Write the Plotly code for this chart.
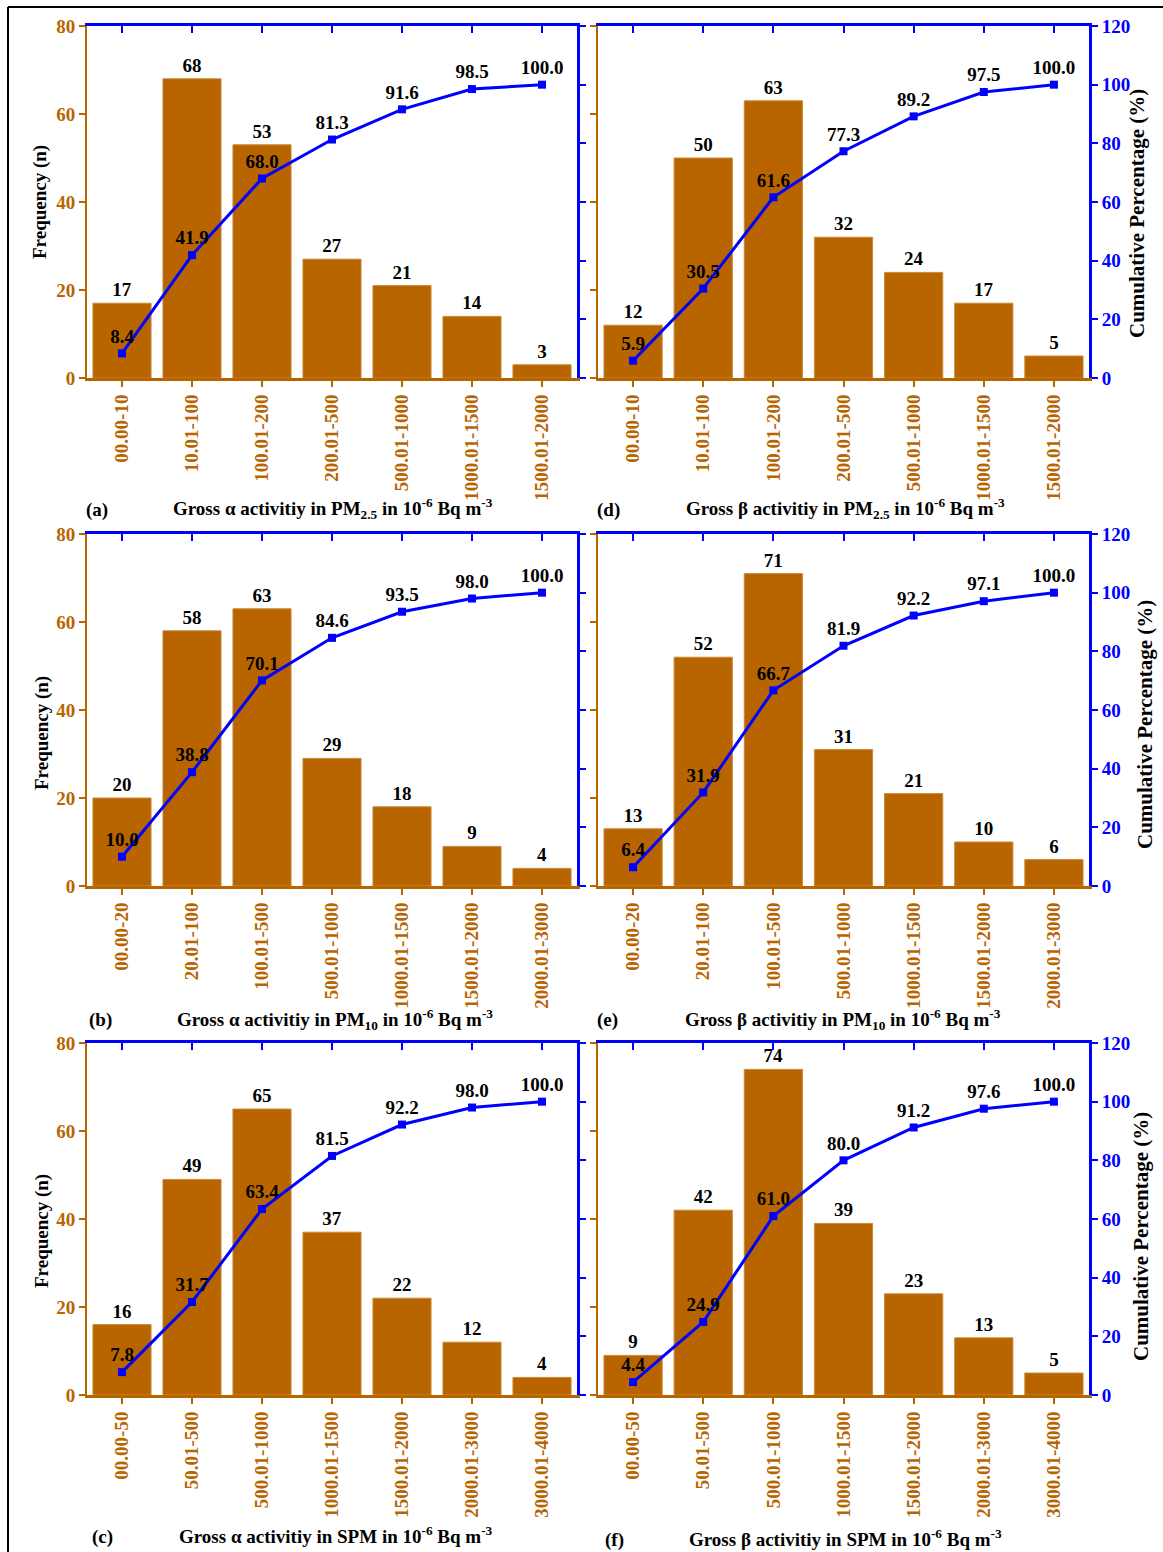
import plotly.graph_objects as go

W, H = 1163, 1552
BROWN = "#B86500"
BLUE = "#0000FF"
FONT = "Liberation Serif"

# ---------------- data ----------------
cats_pm25 = ["00.00-10", "10.01-100", "100.01-200", "200.01-500", "500.01-1000", "1000.01-1500", "1500.01-2000"]
cats_pm10 = ["00.00-20", "20.01-100", "100.01-500", "500.01-1000", "1000.01-1500", "1500.01-2000", "2000.01-3000"]
cats_spm = ["00.00-50", "50.01-500", "500.01-1000", "1000.01-1500", "1500.01-2000", "2000.01-3000", "3000.01-4000"]

freq_a = [17, 68, 53, 27, 21, 14, 3]
cum_a = [8.4, 41.9, 68.0, 81.3, 91.6, 98.5, 100.0]
freq_d = [12, 50, 63, 32, 24, 17, 5]
cum_d = [5.9, 30.5, 61.6, 77.3, 89.2, 97.5, 100.0]
freq_b = [20, 58, 63, 29, 18, 9, 4]
cum_b = [10.0, 38.8, 70.1, 84.6, 93.5, 98.0, 100.0]
freq_e = [13, 52, 71, 31, 21, 10, 6]
cum_e = [6.4, 31.9, 66.7, 81.9, 92.2, 97.1, 100.0]
freq_c = [16, 49, 65, 37, 22, 12, 4]
cum_c = [7.8, 31.7, 63.4, 81.5, 92.2, 98.0, 100.0]
freq_f = [9, 42, 74, 39, 23, 13, 5]
cum_f = [4.4, 24.9, 61.0, 80.0, 91.2, 97.6, 100.0]

title_a = "Gross α activitiy in PM<sub>2.5</sub> in 10<sup>-6</sup> Bq m<sup>-3</sup>"
title_d = "Gross β activitiy in PM<sub>2.5</sub> in 10<sup>-6</sup> Bq m<sup>-3</sup>"
title_b = "Gross α activitiy in PM<sub>10</sub> in 10<sup>-6</sup> Bq m<sup>-3</sup>"
title_e = "Gross β activitiy in PM<sub>10</sub> in 10<sup>-6</sup> Bq m<sup>-3</sup>"
title_c = "Gross α activitiy in SPM in 10<sup>-6</sup> Bq m<sup>-3</sup>"
title_f = "Gross β activitiy in SPM in 10<sup>-6</sup> Bq m<sup>-3</sup>"

# ---------------- layout geometry (pixels) ----------------
col_x = {"L": (87, 577), "R": (598, 1089)}
row_y = [(26, 378), (534, 886), (1043, 1395)]

panels = [
    dict(cats=cats_pm25, freq=freq_a, cum=cum_a, col="L", row=0, letter="(a)", title=title_a,
         lpos=(97, 510), tpos=(333, 509), ytitle=(40, 202), rtitle=None),
    dict(cats=cats_pm25, freq=freq_d, cum=cum_d, col="R", row=0, letter="(d)", title=title_d,
         lpos=(608, 510), tpos=(845, 509), ytitle=None, rtitle=(1137, 214)),
    dict(cats=cats_pm10, freq=freq_b, cum=cum_b, col="L", row=1, letter="(b)", title=title_b,
         lpos=(100, 1020), tpos=(335, 1019), ytitle=(42, 733), rtitle=None),
    dict(cats=cats_pm10, freq=freq_e, cum=cum_e, col="R", row=1, letter="(e)", title=title_e,
         lpos=(607, 1020), tpos=(843, 1019), ytitle=None, rtitle=(1145, 725)),
    dict(cats=cats_spm, freq=freq_c, cum=cum_c, col="L", row=2, letter="(c)", title=title_c,
         lpos=(102, 1537), tpos=(336, 1535), ytitle=(42, 1231), rtitle=None),
    dict(cats=cats_spm, freq=freq_f, cum=cum_f, col="R", row=2, letter="(f)", title=title_f,
         lpos=(614, 1540), tpos=(845, 1538), ytitle=None, rtitle=(1141, 1237)),
]


def fx(p):
    return p / W


def fy(p):
    return 1 - p / H


fig = go.Figure()
layout = dict(
    width=W, height=H, autosize=False,
    margin=dict(l=0, r=0, t=0, b=0, pad=0, autoexpand=False),
    paper_bgcolor="white", plot_bgcolor="rgba(0,0,0,0)",
    showlegend=False,
    font=dict(family=FONT, size=18, color="black"),
)
annotations = []

for i, p in enumerate(panels, start=1):
    j = i + 6
    x0, x1 = col_x[p["col"]]
    yt, yb = row_y[p["row"]]
    left = p["col"] == "L"

    fig.add_trace(go.Bar(
        x=p["cats"], y=p["freq"], xaxis=f"x{i}", yaxis=f"y{i}",
        marker=dict(color=BROWN, line=dict(color="#C98A3A", width=1)),
        width=0.83,
        text=[str(v) for v in p["freq"]], textposition="outside",
        textfont=dict(family=FONT, size=19, color="black", weight="bold"),
        cliponaxis=False, hoverinfo="skip",
    ))
    fig.add_trace(go.Scatter(
        x=p["cats"], y=p["cum"], xaxis=f"x{i}", yaxis=f"y{j}",
        mode="lines+markers+text",
        line=dict(color=BLUE, width=3),
        marker=dict(symbol="square", size=8, color=BLUE),
        text=[f"{v:.1f}" for v in p["cum"]], textposition="top center",
        textfont=dict(family=FONT, size=19, color="black", weight="bold"),
        cliponaxis=False, hoverinfo="skip",
    ))
    # helper trace for the top (blue) category axis
    fig.add_trace(go.Scatter(
        x=p["cats"], y=[None] * len(p["cats"]), xaxis=f"x{j}", yaxis=f"y{i}",
        mode="markers", hoverinfo="skip", showlegend=False,
    ))

    layout[f"xaxis{i}"] = dict(
        domain=[fx(x0), fx(x1)], anchor=f"y{i}", type="category",
        range=[-0.5, 6.5], showgrid=False, zeroline=False, automargin=False,
        showline=True, linecolor=BROWN, linewidth=3,
        ticks="outside", ticklen=6, tickwidth=2, tickcolor=BROWN,
        tickangle=-90,
        tickfont=dict(family=FONT, size=19, color=BROWN, weight="bold"),
        fixedrange=True,
    )
    layout[f"xaxis{j}"] = dict(
        overlaying=f"x{i}", anchor=f"y{i}", side="top", type="category",
        range=[-0.5, 6.5], showgrid=False, zeroline=False, automargin=False,
        showline=True, linecolor=BLUE, linewidth=3,
        ticks="inside", ticklen=7, tickwidth=2, tickcolor=BLUE,
        showticklabels=False, fixedrange=True,
    )
    layout[f"yaxis{i}"] = dict(
        domain=[fy(yb), fy(yt)], anchor=f"x{i}",
        range=[0, 80], dtick=20, showgrid=False, zeroline=False, automargin=False,
        showline=True, linecolor=BROWN, linewidth=2,
        ticks="outside", ticklen=6, tickwidth=2, tickcolor=BROWN,
        showticklabels=left,
        tickfont=dict(family=FONT, size=19, color=BROWN, weight="bold"),
        fixedrange=True,
    )
    layout[f"yaxis{j}"] = dict(
        overlaying=f"y{i}", anchor=f"x{i}", side="right",
        range=[0, 120], dtick=20, showgrid=False, zeroline=False, automargin=False,
        showline=True, linecolor=BLUE, linewidth=3,
        ticks="outside", ticklen=6, tickwidth=2, tickcolor=BLUE,
        showticklabels=not left,
        tickfont=dict(family=FONT, size=19, color=BLUE, weight="bold"),
        fixedrange=True,
    )

    annotations.append(dict(
        text=p["letter"], x=fx(p["lpos"][0]), y=fy(p["lpos"][1]),
        xref="paper", yref="paper", xanchor="center", yanchor="middle",
        showarrow=False, font=dict(family=FONT, size=19, color="black", weight="bold"),
    ))
    annotations.append(dict(
        text=p["title"], x=fx(p["tpos"][0]), y=fy(p["tpos"][1]),
        xref="paper", yref="paper", xanchor="center", yanchor="middle",
        showarrow=False, font=dict(family=FONT, size=19, color="black", weight="bold"),
    ))
    if p["ytitle"]:
        annotations.append(dict(
            text="Frequency (n)", x=fx(p["ytitle"][0]), y=fy(p["ytitle"][1]),
            xref="paper", yref="paper", xanchor="center", yanchor="middle",
            textangle=-90, showarrow=False,
            font=dict(family=FONT, size=19, color="black", weight="bold"),
        ))
    if p["rtitle"]:
        annotations.append(dict(
            text="Cumulative Percentage (%)", x=fx(p["rtitle"][0]), y=fy(p["rtitle"][1]),
            xref="paper", yref="paper", xanchor="center", yanchor="middle",
            textangle=-90, showarrow=False,
            font=dict(family=FONT, size=21, color="black", weight="bold"),
        ))

layout["annotations"] = annotations
layout["shapes"] = [
    dict(type="line", xref="paper", yref="paper", x0=fx(8), x1=1, y0=fy(7), y1=fy(7),
         line=dict(color="black", width=2), layer="above"),
    dict(type="line", xref="paper", yref="paper", x0=fx(8), x1=fx(8), y0=fy(7), y1=0,
         line=dict(color="black", width=2), layer="above"),
]

fig.update_layout(**layout)
fig.write_html("out.html", config={"displayModeBar": False},
               post_script="document.body.style.margin='0';")
